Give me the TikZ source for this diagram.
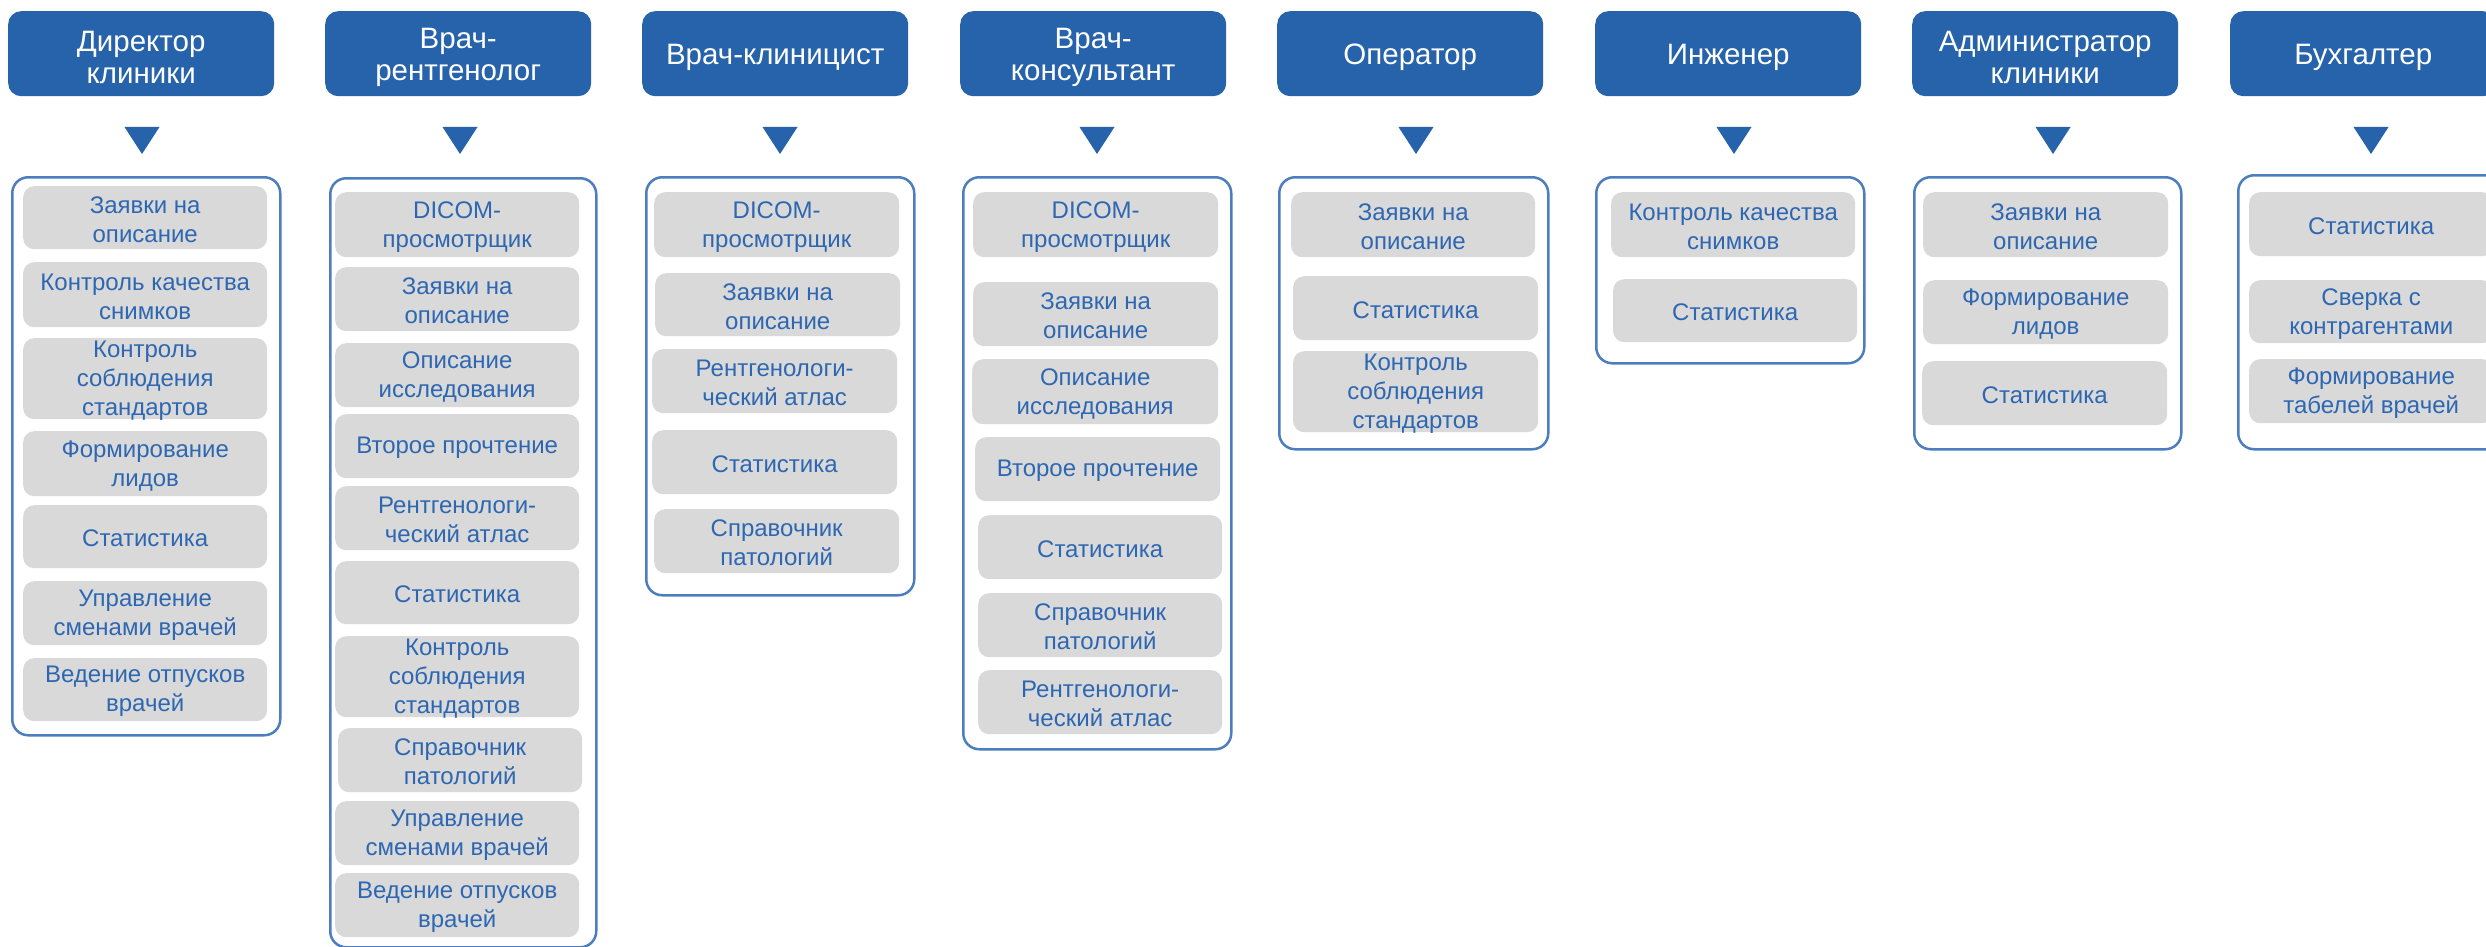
\documentclass[tikz,border=0pt]{standalone}
\usepackage{fontspec}
\setmainfont{Liberation Sans}
\definecolor{hblue}{RGB}{38,99,171}
\definecolor{pblue}{RGB}{76,126,190}
\definecolor{tblue}{RGB}{46,103,177}
\definecolor{igray}{RGB}{217,217,217}
\newcommand\mkrect[7]{%
  \pgfmathsetmacro\rW{#5-#3}%
  \pgfmathsetmacro\rH{#6-#4}%
  \node[#1, minimum width=\rW pt, minimum height=\rH pt, label={[#1txt]center:#7}] (#2) at (#3,#4) {};}
\begin{document}
\begin{tikzpicture}[x=1pt,y=-1pt,
  hdr/.style={fill=hblue, rounded corners=13pt, inner sep=0pt, anchor=north west},
  hdrtxt/.style={text=white, font=\fontsize{29.5}{32}\selectfont, align=center,
    inner sep=0pt, yshift=-4pt},
  panel/.style={draw=pblue, line width=2.5pt, rounded corners=16pt, fill=white,
    inner sep=0pt, anchor=north west},
  paneltxt/.style={inner sep=0pt},
  itembox/.style={fill=igray, rounded corners=11pt, inner sep=0pt, anchor=north west},
  itemboxtxt/.style={text=tblue, font=\fontsize{24}{29}\selectfont, align=center,
    inner sep=0pt, yshift=-2pt},
  tri/.style={fill=hblue}]
\useasboundingbox (0,0) rectangle (2486,947);
\clip (0,0) rectangle (2486,947);
\fill[white] (0,0) rectangle (2486,947);

% headers
\mkrect{hdr}{h1}{8}{11}{274}{96}{Директор\\клиники}
\mkrect{hdr}{h2}{325}{11}{591}{96}{Врач-\\рентгенолог}
\mkrect{hdr}{h3}{642}{11}{908}{96}{Врач-клиницист}
\mkrect{hdr}{h4}{960}{11}{1226}{96}{Врач-\\консультант}
\mkrect{hdr}{h5}{1277}{11}{1543}{96}{Оператор}
\mkrect{hdr}{h6}{1595}{11}{1861}{96}{Инженер}
\mkrect{hdr}{h7}{1912}{11}{2178}{96}{Администратор\\клиники}
\mkrect{hdr}{h8}{2230}{11}{2496}{96}{Бухгалтер}

% triangles
\foreach \c in {142,460,780,1097,1416,1734,2053,2371}
  \fill[tri] (\c-17.5,127) -- (\c+17.5,127) -- (\c,154) -- cycle;

% panels
\mkrect{panel}{p1}{11}{176}{279}{734}{}
\mkrect{panel}{p2}{329}{177}{595}{946}{}
\mkrect{panel}{p3}{645}{176}{913}{594}{}
\mkrect{panel}{p4}{962}{176}{1230}{748}{}
\mkrect{panel}{p5}{1278}{176}{1547}{448}{}
\mkrect{panel}{p6}{1595}{176}{1863}{362}{}
\mkrect{panel}{p7}{1913}{176}{2180}{448}{}
\mkrect{panel}{p8}{2237}{174}{2505}{448}{}

% column 1
\mkrect{itembox}{a1}{23}{186}{267}{249}{Заявки на\\описание}
\mkrect{itembox}{b1}{23}{262}{267}{327}{Контроль качества\\снимков}
\mkrect{itembox}{c1}{23}{338}{267}{419}{Контроль\\соблюдения\\стандартов}
\mkrect{itembox}{d1}{23}{431}{267}{496}{Формирование\\лидов}
\mkrect{itembox}{e1}{23}{505}{267}{568}{Статистика}
\mkrect{itembox}{f1}{23}{581}{267}{645}{Управление\\сменами врачей}
\mkrect{itembox}{g1}{23}{658}{267}{721}{Ведение отпусков\\врачей}

% column 2
\mkrect{itembox}{a2}{335}{192}{579}{257}{DICOM-\\просмотрщик}
\mkrect{itembox}{b2}{335}{267}{579}{331}{Заявки на\\описание}
\mkrect{itembox}{c2}{335}{343}{579}{407}{Описание\\исследования}
\mkrect{itembox}{d2}{335}{414}{579}{478}{Второе прочтение}
\mkrect{itembox}{e2}{335}{486}{579}{550}{Рентгенологи-\\ческий атлас}
\mkrect{itembox}{f2}{335}{561}{579}{624}{Статистика}
\mkrect{itembox}{g2}{335}{636}{579}{717}{Контроль\\соблюдения\\стандартов}
\mkrect{itembox}{h2i}{338}{728}{582}{792}{Справочник\\патологий}
\mkrect{itembox}{i2}{335}{801}{579}{865}{Управление\\сменами врачей}
\mkrect{itembox}{j2}{335}{873}{579}{937}{Ведение отпусков\\врачей}

% column 3
\mkrect{itembox}{a3}{654}{192}{899}{257}{DICOM-\\просмотрщик}
\mkrect{itembox}{b3}{655}{273}{900}{336}{Заявки на\\описание}
\mkrect{itembox}{c3}{652}{349}{897}{413}{Рентгенологи-\\ческий атлас}
\mkrect{itembox}{d3}{652}{430}{897}{494}{Статистика}
\mkrect{itembox}{e3}{654}{509}{899}{573}{Справочник\\патологий}

% column 4
\mkrect{itembox}{a4}{973}{192}{1218}{257}{DICOM-\\просмотрщик}
\mkrect{itembox}{b4}{973}{282}{1218}{346}{Заявки на\\описание}
\mkrect{itembox}{c4}{972}{359}{1218}{424}{Описание\\исследования}
\mkrect{itembox}{d4}{975}{437}{1220}{501}{Второе прочтение}
\mkrect{itembox}{e4}{978}{515}{1222}{579}{Статистика}
\mkrect{itembox}{f4}{978}{593}{1222}{657}{Справочник\\патологий}
\mkrect{itembox}{g4}{978}{670}{1222}{734}{Рентгенологи-\\ческий атлас}

% column 5
\mkrect{itembox}{a5}{1291}{192}{1535}{257}{Заявки на\\описание}
\mkrect{itembox}{b5}{1293}{276}{1538}{340}{Статистика}
\mkrect{itembox}{c5}{1293}{351}{1538}{432}{Контроль\\соблюдения\\стандартов}

% column 6
\mkrect{itembox}{a6}{1611}{192}{1855}{257}{Контроль качества\\снимков}
\mkrect{itembox}{b6}{1613}{279}{1857}{342}{Статистика}

% column 7
\mkrect{itembox}{a7}{1923}{192}{2168}{257}{Заявки на\\описание}
\mkrect{itembox}{b7}{1923}{280}{2168}{344}{Формирование\\лидов}
\mkrect{itembox}{c7}{1922}{361}{2167}{425}{Статистика}

% column 8
\mkrect{itembox}{a8}{2249}{192}{2493}{256}{Статистика}
\mkrect{itembox}{b8}{2249}{280}{2493}{343}{Сверка с\\контрагентами}
\mkrect{itembox}{c8}{2249}{359}{2493}{423}{Формирование\\табелей врачей}
\end{tikzpicture}
\end{document}
